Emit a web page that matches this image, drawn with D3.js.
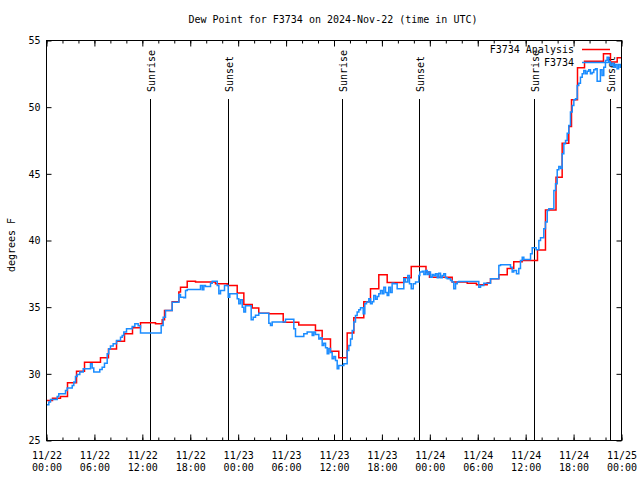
<!DOCTYPE html>
<html><head><meta charset="utf-8">
<script src="https://cdn.jsdelivr.net/npm/d3@7"></script>
<style>
body{margin:0;background:#fff}
text{font-family:"DejaVu Sans Mono",monospace;font-size:10px;fill:#000}
</style></head>
<body><svg id="c" width="640" height="480"></svg>
<script>
// ---- data (hours since 2024-11-22 00:00 UTC) ----
const titleText = "Dew Point for F3734 on 2024-Nov-22 (time in UTC)";
const yLabel = "degrees F";
const yTicks = [25, 30, 35, 40, 45, 50, 55];
const xTickHours = [0, 6, 12, 18, 24, 30, 36, 42, 48, 54, 60, 66, 72];
const redHours = [0, 0.75, 1.75, 2.63, 3.76, 4.76, 6.76, 7.76, 8.77, 9.77, 10.77, 11.77, 13.65, 14.49, 14.78,
  15.74, 16.57, 16.78, 17.62, 18.66, 21.16, 22.63, 23.88, 24.71, 25.76, 26.58, 27.84, 29.64, 31.59, 33.68,
  34.52, 35.56, 36.6, 37.65, 38.48, 39.73, 40.57, 41.61, 42.66, 44.74, 45.67, 47.52, 47.96, 50.8, 52.68,
  53.84, 55.18, 55.6, 56.64, 57.69, 58.51, 59.57, 61.48, 62.48, 63.8, 64.57, 65.4, 65.74, 66.49, 67.37,
  69.74, 70.62, 71.46];
const redValues = [28.0, 28.17, 28.3, 29.33, 30.2, 30.87, 31.2, 31.87, 32.45, 33.0, 33.45, 33.83, 33.75, 34.05, 34.75,
  35.4, 36.13, 36.5, 36.95, 36.88, 36.75, 36.63, 36.07, 35.2, 34.93, 34.55, 34.5, 33.87, 33.67, 33.25,
  32.62, 31.7, 31.2, 33.07, 34.2, 35.4, 36.38, 37.43, 36.85, 37.2, 38.05, 37.63, 37.25, 36.88, 36.8,
  36.68, 36.83, 37.13, 37.43, 37.9, 38.4, 38.5, 39.28, 42.28, 44.75, 47.3, 48.55, 50.55, 52.95, 53.45,
  54.0, 53.38, 53.7];
const blueHours = [0, 0.29, 0.5, 1.34, 1.54, 2.38, 2.59, 3.22, 3.42, 3.63, 3.84, 4.17, 4.6, 5.51, 5.72, 5.92,
  6.67, 6.97, 7.26, 7.6, 7.8, 8.01, 8.35, 8.77, 9.27, 9.48, 9.68, 10.02, 10.73, 11.06, 11.48, 11.77,
  14.36, 14.61, 14.9, 15.74, 16.57, 16.78, 17.19, 17.41, 17.62, 19.28, 19.5, 19.7, 19.91, 20.54, 20.75,
  21.38, 21.58, 21.79, 22.29, 22.75, 22.95, 23.88, 24.08, 24.29, 24.51, 24.71, 24.92, 25.63, 25.88, 26.17,
  26.58, 27.84, 28.05, 28.26, 29.93, 30.77, 30.97, 31.18, 32.22, 32.64, 33.27, 33.47, 33.68, 34.1, 34.31,
  34.52, 34.72, 34.94, 35.15, 35.35, 35.56, 35.77, 35.98, 36.19, 36.4, 36.6, 37.23, 37.65, 37.86, 38.07,
  38.28, 38.48, 38.69, 38.9, 39.11, 39.32, 39.66, 39.86, 40.07, 40.36, 40.57, 40.78, 40.98, 41.2, 41.41,
  41.61, 41.82, 42.04, 42.24, 42.45, 42.66, 42.86, 43.07, 43.28, 43.49, 43.91, 44.74, 44.95, 45.24, 45.45,
  45.67, 45.92, 46.21, 46.62, 46.75, 47.05, 47.25, 47.46, 47.67, 47.87, 48.08, 48.3, 48.5, 48.71, 48.92,
  49.12, 49.34, 49.55, 49.75, 49.96, 50.17, 50.59, 50.8, 51.0, 51.22, 51.43, 51.63, 54.13, 54.35, 54.76,
  55.6, 56.64, 56.85, 58.1, 58.31, 58.51, 58.85, 59.14, 59.35, 59.57, 59.77, 60.61, 60.82, 61.32, 61.65,
  61.86, 62.27, 62.48, 62.7, 62.9, 63.53, 63.74, 63.95, 64.15, 64.36, 64.57, 64.78, 64.99, 65.2, 65.4,
  65.61, 65.83, 66.03, 66.24, 66.45, 66.65, 66.86, 67.08, 67.28, 67.49, 67.7, 67.9, 68.11, 68.32, 68.53,
  68.74, 68.95, 69.36, 69.57, 69.78, 69.99, 70.2, 70.4, 70.61, 70.82, 71.02, 71.23, 71.44, 71.64, 71.85];
const blueValues = [27.68, 27.88, 28.08, 28.3, 28.5, 28.75, 28.93, 29.13, 29.38, 29.8, 29.95, 30.13, 30.38, 30.75, 30.43, 30.13,
  30.33, 30.5, 30.8, 31.5, 31.88, 32.08, 32.25, 32.5, 32.75, 32.88, 33.13, 33.38, 33.55, 33.75, 33.6, 33.07,
  33.63, 34.25, 34.75, 35.37, 35.95, 35.75, 35.7, 36.25, 36.33, 36.63, 36.3, 36.63, 36.55, 36.8, 36.95,
  36.63, 36.0, 36.25, 36.63, 35.75, 36.0, 35.63, 35.25, 35.55, 35.0, 34.63, 35.1, 34.05, 34.25, 34.4,
  34.55, 33.8, 33.63, 33.88, 34.1, 34.1, 33.38, 32.8, 33.0, 33.13, 32.88, 33.13, 32.95, 32.62, 32.7,
  32.13, 32.3, 31.95, 31.5, 31.9, 31.6, 31.13, 31.3, 31.0, 30.38, 30.63, 30.75, 31.75, 32.13, 32.62,
  33.25, 33.88, 34.38, 34.63, 34.8, 34.95, 34.5, 35.25, 35.38, 35.63, 35.25, 35.4, 35.88, 35.6, 35.8,
  36.0, 36.25, 36.0, 36.5, 36.1, 35.88, 36.5, 36.1, 36.8, 36.75, 36.38, 37.13, 36.88, 37.38, 36.75,
  36.38, 36.75, 36.88, 37.38, 37.63, 37.7, 37.45, 37.75, 37.45, 37.63, 37.25, 37.45, 37.35, 37.5, 37.2,
  37.55, 37.2, 37.38, 37.5, 37.2, 37.13, 37.0, 36.88, 36.38, 36.75, 36.88, 36.93, 36.5, 36.63, 36.8,
  37.13, 38.13, 38.18, 38.0, 37.63, 37.75, 37.5, 37.9, 38.5, 38.75, 38.57, 39.0, 39.45, 39.3, 40.0,
  40.2, 40.88, 41.38, 42.25, 42.38, 43.75, 44.25, 45.3, 45.55, 45.4, 46.5, 47.25, 47.5, 48.05, 48.63,
  49.63, 50.13, 50.55, 50.63, 51.63, 51.8, 52.25, 52.5, 52.75, 52.5, 52.7, 52.8, 52.5, 52.6, 52.8,
  52.88, 51.95, 52.8, 52.38, 53.0, 53.5, 53.75, 53.4, 53.13, 53.3, 53.0, 53.2, 52.88, 53.2, 53.0];
const sunLabels = ["Sunrise", "Sunset", "Sunrise", "Sunset", "Sunrise", "Sunset"];
const sunHours = [12.94, 22.7, 36.98, 46.62, 61.02, 70.62];
const seriesNames = ["F3734 Analysis", "F3734"];
const seriesColors = ["#ff0000", "#1a8cff"];

// ---- chart ----
const svg = d3.select("#c");
const L = 46.5, R = 621.5, T = 40.5, B = 440.5;
const t0 = Date.UTC(2024, 10, 22, 0, 0);
const toDate = h => new Date(t0 + h * 3600e3);
const x = d3.scaleUtc().domain([toDate(0), toDate(72)]).range([L, R]);
const y = d3.scaleLinear().domain([25, 55]).range([B, T]);

svg.append("text").attr("x", 333).attr("y", 23).attr("text-anchor", "middle").text(titleText);
svg.append("text").attr("transform", "translate(15,245) rotate(-90)").attr("text-anchor", "middle").text(yLabel);

svg.append("defs").append("clipPath").attr("id", "clip")
  .append("rect").attr("x", L).attr("y", T).attr("width", R - L).attr("height", B - T);

// axes
const minorTicks = d3.range(0, 73, 2).map(toDate);
const majorTicks = xTickHours.map(toDate);
const fmtD = d3.utcFormat("%m/%d"), fmtT = d3.utcFormat("%H:%M");
function styleAxis(g) { g.select(".domain").remove(); g.selectAll("line").attr("stroke", "#000"); }
svg.append("g").attr("transform", `translate(0,${B})`)
  .call(d3.axisBottom(x).tickValues(minorTicks).tickSize(-3).tickFormat("")).call(styleAxis);
svg.append("g").attr("transform", `translate(0,${T})`)
  .call(d3.axisTop(x).tickValues(minorTicks).tickSize(-3).tickFormat("")).call(styleAxis);
svg.append("g").attr("transform", `translate(0,${T})`)
  .call(d3.axisTop(x).tickValues(majorTicks).tickSize(-6).tickFormat("")).call(styleAxis);
const xb = svg.append("g").attr("transform", `translate(0,${B})`)
  .call(d3.axisBottom(x).tickValues(majorTicks).tickSize(-6).tickPadding(12).tickFormat(fmtD)).call(styleAxis);
xb.selectAll("text").attr("font-size", null).attr("font-family", null).each(function(d) {
  const tx = d3.select(this); tx.text(null).attr("y", 0).attr("dy", null);
  tx.append("tspan").attr("x", 0).attr("y", 18).text(fmtD(d));
  tx.append("tspan").attr("x", 0).attr("y", 30).text(fmtT(d));
});
const yl = svg.append("g").attr("transform", `translate(${L},0)`)
  .call(d3.axisLeft(y).tickValues(yTicks).tickSize(-5).tickPadding(6)).call(styleAxis);
yl.selectAll("text").attr("font-size", null).attr("font-family", null);
svg.append("g").attr("transform", `translate(${R},0)`)
  .call(d3.axisRight(y).tickValues(yTicks).tickSize(-5).tickFormat("")).call(styleAxis);

// sunrise/sunset
sunHours.forEach((h, i) => {
  const sx = Math.round(x(toDate(h))) + 0.5;
  svg.append("line").attr("x1", sx).attr("x2", sx).attr("y1", 99).attr("y2", B).attr("stroke", "#000");
  svg.append("text").attr("transform", `translate(${sx + 4},92) rotate(-90)`).text(sunLabels[i]);
});

// series
function mk(hours, vals) {
  const pts = hours.map((h, i) => [toDate(h), vals[i]]);
  pts.push([toDate(72), vals[vals.length - 1]]);
  return pts;
}
const line = d3.line().x(d => x(d[0])).y(d => y(d[1])).curve(d3.curveStepAfter);
const plot = svg.append("g").attr("clip-path", "url(#clip)");
plot.append("path").datum(mk(redHours, redValues)).attr("d", line)
  .attr("fill", "none").attr("stroke", seriesColors[0]).attr("stroke-width", 1.5);
plot.append("path").datum(mk(blueHours, blueValues)).attr("d", line)
  .attr("fill", "none").attr("stroke", seriesColors[1]).attr("stroke-width", 1.5);

// border
svg.append("rect").attr("x", L).attr("y", T).attr("width", R - L).attr("height", B - T)
  .attr("fill", "none").attr("stroke", "#000");

// legend
seriesNames.forEach((n, i) => {
  const ly = 49.5 + i * 13;
  svg.append("text").attr("x", 574).attr("y", ly + 3.5).attr("text-anchor", "end").text(n);
  svg.append("line").attr("x1", 582).attr("x2", 610).attr("y1", ly).attr("y2", ly)
    .attr("stroke", seriesColors[i]).attr("stroke-width", 1.5);
});
</script></body></html>
